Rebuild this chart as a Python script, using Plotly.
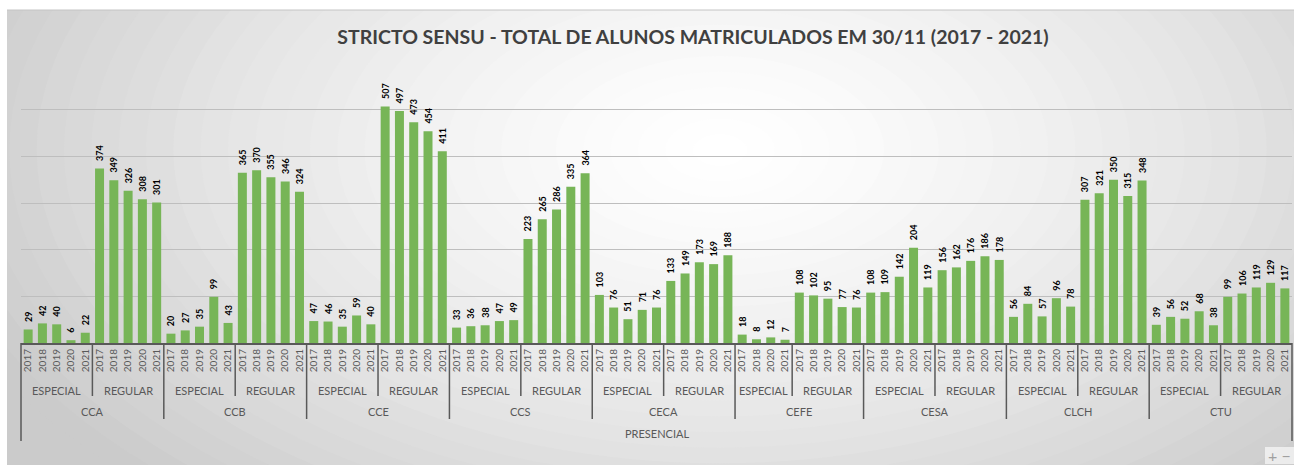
import plotly.graph_objects as go

# ---------------- data ----------------
centers = ["CCA", "CCB", "CCE", "CCS", "CECA", "CEFE", "CESA", "CLCH", "CTU"]
top_group = "PRESENCIAL"
modalities = ["ESPECIAL", "REGULAR"]
years = ["2017", "2018", "2019", "2020", "2021"]
cefe_especial_years = ["2017", "2018", "2020", "2021"]

cca_especial = [29, 42, 40, 6, 22]
cca_regular = [374, 349, 326, 308, 301]
ccb_especial = [20, 27, 35, 99, 43]
ccb_regular = [365, 370, 355, 346, 324]
cce_especial = [47, 46, 35, 59, 40]
cce_regular = [507, 497, 473, 454, 411]
ccs_especial = [33, 36, 38, 47, 49]
ccs_regular = [223, 265, 286, 335, 364]
ceca_especial = [103, 76, 51, 71, 76]
ceca_regular = [133, 149, 173, 169, 188]
cefe_especial = [18, 8, 12, 7]
cefe_regular = [108, 102, 95, 77, 76]
cesa_especial = [108, 109, 142, 204, 119]
cesa_regular = [156, 162, 176, 186, 178]
clch_especial = [56, 84, 57, 96, 78]
clch_regular = [307, 321, 350, 315, 348]
ctu_especial = [39, 56, 52, 68, 38]
ctu_regular = [99, 106, 119, 129, 117]

title_text = "STRICTO SENSU - TOTAL DE ALUNOS MATRICULADOS EM 30/11 (2017 - 2021)"

series = {
    "CCA": (cca_especial, cca_regular),
    "CCB": (ccb_especial, ccb_regular),
    "CCE": (cce_especial, cce_regular),
    "CCS": (ccs_especial, ccs_regular),
    "CECA": (ceca_especial, ceca_regular),
    "CEFE": (cefe_especial, cefe_regular),
    "CESA": (cesa_especial, cesa_regular),
    "CLCH": (clch_especial, clch_regular),
    "CTU": (ctu_especial, ctu_regular),
}

# ---------------- build flat positions ----------------
xs, vals, ylabels = [], [], []
mod_groups = []   # (label, start, end)
center_groups = []
i = 0
for c in centers:
    c_start = i
    for m, v in zip(modalities, series[c]):
        yrs = cefe_especial_years if (c == "CEFE" and m == "ESPECIAL") else years
        m_start = i
        for y, val in zip(yrs, v):
            xs.append(i)
            vals.append(val)
            ylabels.append(y)
            i += 1
        mod_groups.append((m, m_start, i - 1))
    center_groups.append((c, c_start, i - 1))
N = i

# ---------------- geometry helpers (pixels -> paper) ----------------
W, H = 1294, 465
L, R, T, B = 21, 2, 63, 122
PW, PH = W - L - R, H - T - B


def xp(px):
    return (px - L) / PW


def yp(py):
    return (H - B - py) / PH


BAR = "#77B557"
GRAY = "#595959"
FONT = "Lato"

fig = go.Figure()
fig.add_trace(go.Bar(
    x=xs, y=vals, text=vals, texttemplate="\u2002%{text}",
    textposition="outside", textangle=-90,
    constraintext="none", cliponaxis=False, width=0.63,
    marker=dict(color=BAR, line=dict(width=0)),
    textfont=dict(family=FONT, size=9, color="#000000", weight="bold"),
    hoverinfo="skip", showlegend=False,
))

shapes = []
# background radial-ish gradient
cx, cy, rx, ry = 720, 150, 820, 470
base = 203
steps = 30
shapes.append(dict(type="rect", xref="paper", yref="paper", layer="below",
                   x0=xp(0), x1=xp(W), y0=yp(H), y1=yp(0),
                   fillcolor=f"rgb({base},{base},{base})", line=dict(width=0)))
for k in range(steps, 0, -1):
    t = k / steps
    g = int(round(255 - (255 - base) * t ** 1.4))
    shapes.append(dict(type="circle", xref="paper", yref="paper", layer="below",
                       x0=xp(cx - rx * t), x1=xp(cx + rx * t),
                       y0=yp(cy + ry * t), y1=yp(cy - ry * t),
                       fillcolor=f"rgb({g},{g},{g})", line=dict(width=0)))
# white border outside the chart area
shapes.append(dict(type="rect", xref="paper", yref="paper", layer="below",
                   x0=xp(-50), x1=xp(W + 50), y0=yp(10), y1=yp(-50),
                   fillcolor="white", line=dict(width=0)))
shapes.append(dict(type="rect", xref="paper", yref="paper", layer="below",
                   x0=xp(-50), x1=xp(7), y0=yp(H + 50), y1=yp(-50),
                   fillcolor="white", line=dict(width=0)))
shapes.append(dict(type="line", xref="paper", yref="paper", layer="below",
                   x0=xp(7), x1=xp(W), y0=yp(10), y1=yp(10),
                   line=dict(color="#C4C4C4", width=1)))
# zoom-control box (bottom right)
shapes.append(dict(type="rect", xref="paper", yref="paper", layer="below",
                   x0=xp(1265), x1=xp(1294), y0=yp(464), y1=yp(447),
                   fillcolor="rgba(240,240,240,0.9)", line=dict(width=0)))

# hierarchical separators
y_axis = 0
y_mod = yp(396)
y_center = yp(419)
y_outer = yp(441)
for (m, s, e) in mod_groups:
    if m == "REGULAR":
        shapes.append(dict(type="line", xref="x", yref="paper", layer="above",
                           x0=s - 0.5, x1=s - 0.5, y0=y_axis, y1=y_mod,
                           line=dict(color=GRAY, width=1.5)))
for (c, s, e) in center_groups[1:]:
    shapes.append(dict(type="line", xref="x", yref="paper", layer="above",
                       x0=s - 0.5, x1=s - 0.5, y0=y_axis, y1=y_center,
                       line=dict(color=GRAY, width=1.5)))
for xe in (0, 1):
    shapes.append(dict(type="line", xref="paper", yref="paper", layer="above",
                       x0=xe, x1=xe, y0=y_axis, y1=y_outer,
                       line=dict(color=GRAY, width=1.5)))

annotations = []
for (m, s, e) in mod_groups:
    annotations.append(dict(text=m, xref="x", yref="paper", x=(s + e) / 2, y=yp(390),
                            showarrow=False, xanchor="center", yanchor="middle",
                            font=dict(family=FONT, size=11, color=GRAY)))
for (c, s, e) in center_groups:
    annotations.append(dict(text=c, xref="x", yref="paper", x=(s + e) / 2, y=yp(411),
                            showarrow=False, xanchor="center", yanchor="middle",
                            font=dict(family=FONT, size=11, color=GRAY)))
annotations.append(dict(text=top_group, xref="paper", yref="paper", x=0.5, y=yp(433),
                        showarrow=False, xanchor="center", yanchor="middle",
                        font=dict(family=FONT, size=11, color=GRAY)))
annotations.append(dict(text="+ \u2212", xref="paper", yref="paper", x=xp(1279), y=yp(455),
                        showarrow=False, xanchor="center", yanchor="middle",
                        font=dict(family=FONT, size=16, color="#A0A0A0")))

fig.update_layout(
    width=W, height=H,
    margin=dict(l=L, r=R, t=T, b=B, pad=0),
    paper_bgcolor="white", plot_bgcolor="rgba(0,0,0,0)",
    title=dict(text=title_text, x=693 / W, xanchor="center", y=1 - 37 / H, yanchor="middle",
               font=dict(family=FONT, size=19.5, color="#404040", weight="bold")),
    shapes=shapes, annotations=annotations,
    bargap=0.37,
    xaxis=dict(range=[-0.5, N - 0.5], tickmode="array", tickvals=xs, ticktext=ylabels,
               tickangle=-90, tickfont=dict(family=FONT, size=10, color=GRAY),
               showgrid=False, zeroline=False, showline=True, linecolor=GRAY, linewidth=2,
               ticks="", fixedrange=True),
    yaxis=dict(range=[0, 600], dtick=100, showticklabels=False, showgrid=True,
               gridcolor="#BEBEBE", gridwidth=1, zeroline=False, showline=False,
               fixedrange=True),
    showlegend=False,
)

fig.write_html(
    "out.html",
    config={"displayModeBar": False},
    post_script="document.body.style.margin='0px';document.body.style.overflow='hidden';",
)
